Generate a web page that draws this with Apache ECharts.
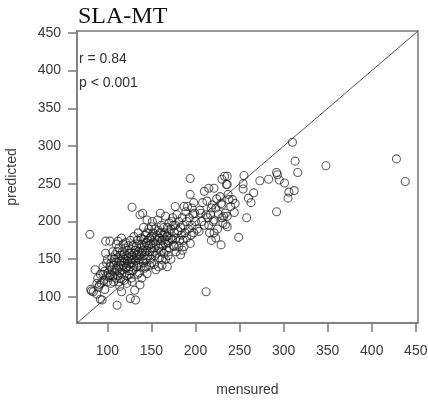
<!DOCTYPE html>
<html>
<head>
<meta charset="utf-8">
<script src="https://cdn.jsdelivr.net/npm/echarts@6/dist/echarts.min.js"></script>
<style>
html,body{margin:0;padding:0;background:#fff;}
#chart{width:428px;height:402px;}
</style>
</head>
<body>
<div id="chart"></div>
<script>
// ---- data ----
const titleText = "SLA-MT";
const statLines = ["r = 0.84", "p < 0.001"];
const xName = "mensured";
const yName = "predicted";
const xTicks = [100, 150, 200, 250, 300, 350, 400, 450];
const yTicks = [100, 150, 200, 250, 300, 350, 400, 450];
const axisMin = 65.5;
const axisMax = 452.5;
const identityLine = [[65.5, 65.5], [452.5, 452.5]];

const pointsA = [ // mensured 78-115
[80,183],[82,108],[81,110],[84,107],[86,136],[88,118],[89,125],[90,113],[91,116],[92,97],[93,118],[94,96],[95,130],[96,122],[97,110],[98,158],[98,174],[99,145],[99,128],[95,140],[92,130],[88,104],[97,134],[100,150],[100,120],
[101,132],[102,126],[103,140],[103,129],[103,174],[104,145],[104,118],[105,152],[105,136],[106,128],[106,160],[107,120],[107,142],[108,133],[108,150],[109,125],[109,156],[110,138],[110,146],[111,89],[111,136],[111,160],[112,174],[112,128],[112,152],[113,140],[113,165],[114,114],[114,147],[114,132],[115,155],[115,142],[115,125],[113,120],[110,170]
];
const pointsB = [ // mensured 116-150
[116,107],[116,178],[116,148],[117,160],[117,136],[118,152],[118,142],[118,170],[119,130],[119,157],[120,145],[120,165],[120,150],[121,138],[121,172],[122,140],[122,155],[122,128],[123,162],[123,148],[124,135],[124,168],[124,152],[125,144],[125,158],[126,98],[126,175],[126,140],[127,150],[127,163],[128,219],[128,120],[128,155],[128,145],[129,168],[129,135],[130,158],[130,150],[130,180],[130,142],[131,109],[125,130],[127,125],[122,118],[119,122],
[132,96],[132,162],[132,148],[133,167],[133,155],[133,140],[134,175],[134,152],[135,160],[135,145],[135,185],[136,170],[136,156],[137,116],[137,209],[137,150],[138,165],[138,178],[138,140],[139,158],[139,170],[140,211],[140,150],[140,162],[141,176],[141,145],[142,168],[142,155],[143,182],[143,160],[144,172],[144,150],[145,131],[145,185],[145,202],[145,162],[146,175],[146,155],[147,168],[147,190],[148,160],[148,178],[149,150],[149,170],[150,145],[150,193],[150,165],[150,180],[136,132],[142,138],[139,125],[144,140],[148,142],[134,130],[141,192]
];
const pointsC = [ // mensured 151-200
[151,200],[151,160],[152,172],[152,185],[153,143],[153,165],[154,178],[154,190],[155,136],[155,170],[156,158],[156,182],[157,202],[157,175],[158,165],[158,188],[159,152],[159,178],[160,211],[160,170],[160,185],[161,160],[161,195],[162,175],[162,150],[163,182],[163,168],[164,192],[164,158],[165,176],[165,185],[166,207],[166,170],[167,180],[167,162],[168,180],[168,192],[169,172],[169,155],[170,185],[170,198],[170,165],[158,140],[162,142],[166,150],[154,155],[168,140],[172,150],
[172,178],[172,190],[173,200],[174,205],[174,176],[175,168],[176,167],[176,185],[177,220],[177,195],[178,178],[179,209],[180,188],[181,167],[181,200],[182,175],[183,156],[183,192],[184,182],[185,162],[185,205],[186,195],[187,167],[187,220],[188,185],[189,213],[190,200],[190,178],[191,220],[192,190],[193,205],[194,171],[194,257],[194,236],[195,182],[196,218],[196,195],[197,210],[198,225],[198,185],[199,211],[200,200],[178,160],[186,175],[175,195]
];
const pointsD = [ // mensured 201+
[202,190],[204,187],[205,215],[206,211],[207,200],[208,225],[210,240],[210,195],[212,209],[212,107],[213,227],[214,205],[215,195],[215,244],[216,185],[217,209],[218,218],[219,222],[220,200],[221,185],[221,244],[221,202],[223,178],[223,218],[224,230],[226,210],[228,233],[229,169],[229,224],[230,222],[230,256],[230,205],[231,198],[232,207],[233,260],[234,196],[234,211],[235,249],[236,207],[236,193],[236,260],[236,249],[237,236],[238,229],[240,220],[225,190],[218,175],
[242,229],[244,212],[245,224],[249,179],[254,250],[254,243],[255,261],[258,205],[260,231],[263,225],[266,238],[273,254],[283,256],[292,265],[293,262],[292,213],[295,255],[301,251],[305,231],[306,239],[310,305],[312,241],[313,280],[316,265],
[348,274],[428,283],[438,253]
];
const points = pointsA.concat(pointsB, pointsC, pointsD);

// ---- chart ----
const chart = echarts.init(document.getElementById('chart'), null, {renderer: 'canvas'});
const labelFont = {fontFamily: 'Liberation Sans, Arial, sans-serif', fontSize: 14, color: '#3a3a3a'};
const nameFont = {fontFamily: 'Liberation Sans, Arial, sans-serif', fontSize: 14, color: '#3a3a3a'};
const axisColor = '#7a7a7a';

chart.setOption({
  backgroundColor: '#ffffff',
  animation: false,
  title: {
    text: titleText,
    left: 73, top: 0,
    textStyle: {fontFamily: 'Liberation Serif, Times New Roman, serif', fontSize: 24, fontWeight: 'normal', color: '#111'}
  },
  graphic: statLines.map((t, i) => ({
    type: 'text', left: 79, top: 52 + i * 24,
    style: {text: t, font: '14px Liberation Sans, Arial, sans-serif', fill: '#333'}
  })),
  grid: {left: 77, right: 10, top: 31, bottom: 79, containLabel: false, outerBoundsMode: 'none',
    show: true, borderColor: axisColor, borderWidth: 1.5, backgroundColor: 'transparent'},
  xAxis: {
    type: 'value', min: axisMin, max: axisMax,
    name: xName, nameLocation: 'middle', nameGap: 60,
    nameTextStyle: nameFont,
    axisLine: {show: true, lineStyle: {color: axisColor, width: 1.5}},
    axisTick: {show: true, length: 9, customValues: xTicks, lineStyle: {color: axisColor, width: 1.5}},
    axisLabel: Object.assign({margin: 21, customValues: xTicks}, labelFont),
    splitLine: {show: false}
  },
  yAxis: {
    type: 'value', min: axisMin, max: axisMax,
    name: yName, nameLocation: 'middle', nameGap: 58, nameRotate: 90,
    nameTextStyle: nameFont,
    axisLine: {show: true, lineStyle: {color: axisColor, width: 1.5}},
    axisTick: {show: true, length: 9, customValues: yTicks, lineStyle: {color: axisColor, width: 1.5}},
    axisLabel: Object.assign({margin: 16, customValues: yTicks}, labelFont),
    splitLine: {show: false}
  },
  series: [
    {
      type: 'line', data: identityLine, symbol: 'none', silent: true,
      lineStyle: {color: '#555', width: 1}, z: 1
    },
    {
      type: 'scatter', data: points, symbol: 'circle', symbolSize: 8,
      itemStyle: {color: 'rgba(0,0,0,0)', borderColor: 'rgba(20,20,20,0.85)', borderWidth: 1.1},
      z: 2
    }
  ]
});
</script>
</body>
</html>
